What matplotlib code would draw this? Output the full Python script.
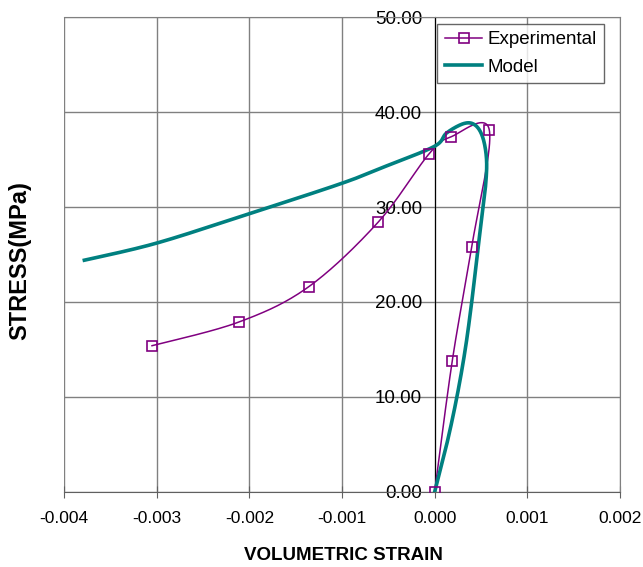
import numpy as np
import matplotlib.pyplot as plt

plt.rcParams['font.family'] = ['Liberation Sans', 'DejaVu Sans']

# measured points (loading branch then lateral dilation branch)
exp_strain = [0.0, 0.00019, 0.00040, 0.00059, 0.00018, -0.00006, -0.00061, -0.00136, -0.00211, -0.00305]
exp_stress = [0.0, 13.8, 25.8, 38.1, 37.4, 35.6, 28.4, 21.6, 17.9, 15.4]

# model prediction
model_strain = [0.0, 0.00013, 0.00024, 0.00033, 0.00040, 0.00046, 0.00051, 0.00055, 0.00056,
                0.00052, 0.00044, 0.00032, 0.00013, 0.0, -0.0005, -0.001, -0.002, -0.003, -0.00378]
model_stress = [0.0, 5.0, 10.0, 15.0, 20.0, 25.0, 29.0, 32.3, 35.0,
                37.3, 38.6, 38.8, 37.8, 36.4, 34.4, 32.5, 29.3, 26.2, 24.4]

x_ticks = [-0.004, -0.003, -0.002, -0.001, 0.0, 0.001, 0.002]
y_ticks = [0, 10, 20, 30, 40, 50]

PURPLE = '#800080'
TEAL = '#008080'


def smooth(ax, xs, ys, n=40):
    # Bezier smoothing done in screen space so the curve looks even
    pts = ax.transData.transform(np.column_stack([xs, ys]))
    p = np.vstack([pts[0], pts, pts[-1]])
    t = np.linspace(0, 1, n)[:, None]
    out = []
    for i in range(1, len(p) - 2):
        p0, p1, p2, p3 = p[i - 1], p[i], p[i + 1], p[i + 2]
        c1 = p1 + (p2 - p0) / 6
        c2 = p2 - (p3 - p1) / 6
        seg = (1 - t) ** 3 * p1 + 3 * (1 - t) ** 2 * t * c1 + 3 * (1 - t) * t ** 2 * c2 + t ** 3 * p2
        out.append(seg)
    data = ax.transData.inverted().transform(np.vstack(out))
    return data[:, 0], data[:, 1]


fig = plt.figure(figsize=(6.43, 5.67), dpi=100)
ax = fig.add_axes([0.0995, 0.1323, 0.8647, 0.8377])
ax.set_xlim(x_ticks[0], x_ticks[-1])
ax.set_ylim(y_ticks[0], y_ticks[-1])

ax.set_xticks(x_ticks)
ax.set_yticks(y_ticks)
ax.set_xticklabels(['%.3f' % v for v in x_ticks])
ax.set_yticklabels(['%.2f' % v for v in y_ticks])
ax.grid(True, color='#808080', linewidth=1.0)

ax.spines['left'].set_position(('data', 0))
ax.spines['left'].set_color('black')
ax.spines['bottom'].set_color('#606060')
for side in ['top', 'right']:
    ax.spines[side].set_color('#808080')

ax.tick_params(axis='x', direction='inout', length=9, color='#606060', labelsize=12.5, pad=9)
ax.tick_params(axis='y', direction='inout', length=0, labelsize=13.5, pad=9)

ex, ey = smooth(ax, exp_strain, exp_stress)
ax.plot(ex, ey, color=PURPLE, linewidth=1.1, zorder=3)
ax.plot(exp_strain, exp_stress, linestyle='none', marker='s', markersize=7.5,
        markerfacecolor='none', markeredgecolor=PURPLE, markeredgewidth=1.2, zorder=4)

mx, my = smooth(ax, model_strain, model_stress)
ax.plot(mx, my, color=TEAL, linewidth=2.6, zorder=3)

# legend handles
h1, = ax.plot([], [], color=PURPLE, linewidth=1.1, marker='s', markersize=7.5,
              markerfacecolor='none', markeredgecolor=PURPLE, markeredgewidth=1.2)
h2, = ax.plot([], [], color=TEAL, linewidth=2.6)
leg = ax.legend([h1, h2], ['Experimental', 'Model'], loc='upper right',
                bbox_to_anchor=(0.971, 0.986), fontsize=13.5, frameon=True, fancybox=False,
                borderpad=0.4, handlelength=2.0, handletextpad=0.25, labelspacing=0.55,
                borderaxespad=0)
leg.get_frame().set_edgecolor('#404040')
leg.get_frame().set_linewidth(1.0)

fig.text(0.534, 0.021, 'VOLUMETRIC STRAIN', fontsize=13.5, fontweight='bold',
         ha='center', va='center')
fig.text(0.031, 0.541, 'STRESS(MPa)', fontsize=17, fontweight='bold', rotation=90,
         ha='center', va='center')

fig.savefig('out.png', dpi=100)
